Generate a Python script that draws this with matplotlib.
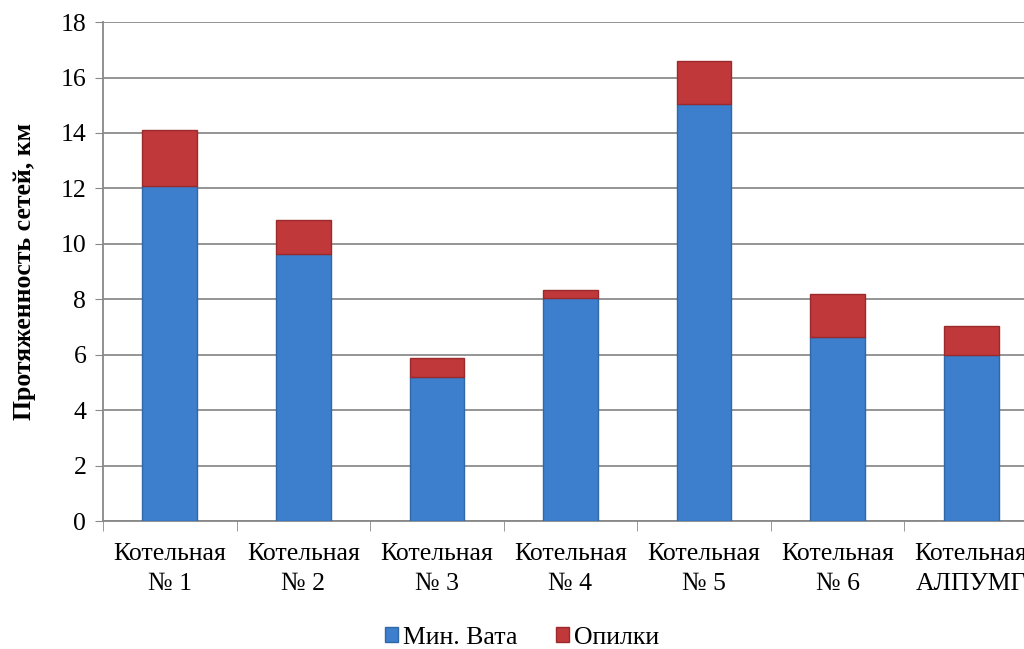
import matplotlib.pyplot as plt
import numpy as np

categories = ['Котельная\n№ 1', 'Котельная\n№ 2', 'Котельная\n№ 3', 'Котельная\n№ 4',
              'Котельная\n№ 5', 'Котельная\n№ 6', 'Котельная\nАЛПУМГ']
min_vata = [12.1, 9.65, 5.2, 8.05, 15.05, 6.65, 6.0]
opilki = [2.0, 1.2, 0.7, 0.3, 1.55, 1.55, 1.05]

plt.rcParams['font.family'] = ['Liberation Serif', 'DejaVu Serif']

fig = plt.figure(figsize=(10.24, 6.49), dpi=100)
ax = fig.add_axes([0.1006, 0.197, 0.913, 0.769])

x = np.arange(len(categories))
ax.bar(x, min_vata, width=0.41, color='#3d7fcc', edgecolor='#2f67a8', linewidth=1,
       label='Мин. Вата', zorder=3)
ax.bar(x, opilki, width=0.41, bottom=min_vata, color='#c0383a', edgecolor='#9a2a2c',
       linewidth=1, label='Опилки', zorder=3)

ax.set_xlim(-0.5, len(categories) - 0.5)
ax.set_ylim(0, 18)
ax.set_yticks(range(0, 19, 2))
ax.set_xticks(x)
ax.set_xticklabels(categories, fontsize=18.5, linespacing=1.45)
ax.set_xticks(np.arange(-0.5, len(categories), 1), minor=True)
ax.tick_params(axis='x', which='major', length=0, pad=16)
ax.tick_params(axis='x', which='minor', length=7, color='#888888')
ax.tick_params(axis='y', labelsize=18.5, length=6, color='#888888', direction='out', pad=6)
ax.grid(axis='y', color='#8c8c8c', linewidth=1.3, zorder=0)

for s in ['top', 'right']:
    ax.spines[s].set_visible(False)
ax.spines['left'].set_color('#888888')
ax.spines['bottom'].set_color('#888888')
ax.spines['left'].set_linewidth(1.3)
ax.spines['bottom'].set_linewidth(1.3)

ax.set_ylabel('Протяженность сетей, км', fontsize=18.5, fontweight='bold', labelpad=18)

fig.legend(loc='lower center', bbox_to_anchor=(0.51, -0.035), ncol=2, frameon=False,
           fontsize=18.5, handlelength=0.5, handleheight=0.5, handletextpad=0.2,
           columnspacing=1.5)

plt.savefig('out.png', dpi=100)
